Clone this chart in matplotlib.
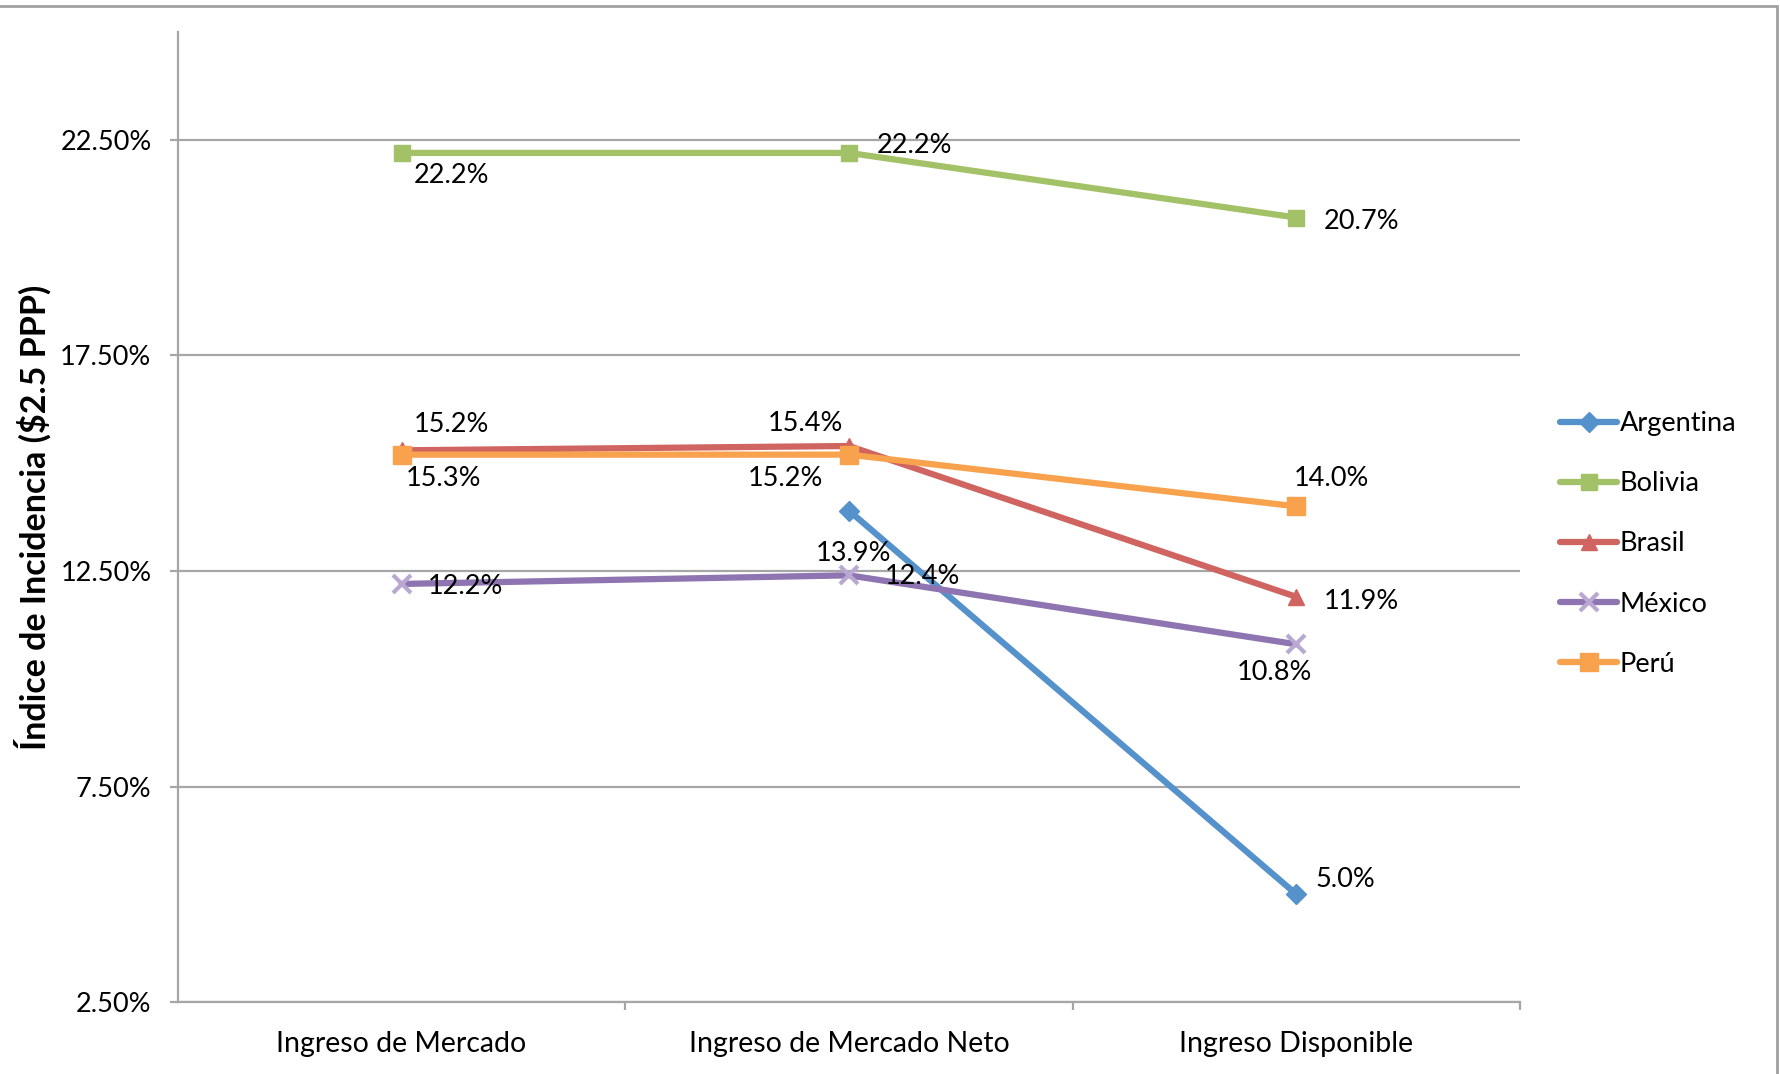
import numpy as np
import matplotlib
matplotlib.use("Agg")
import matplotlib.pyplot as plt
from matplotlib.patches import Rectangle
from matplotlib.ticker import FixedLocator, FuncFormatter

plt.rcParams["font.family"] = ["Lato", "DejaVu Sans"]

categories = ["Ingreso de Mercado", "Ingreso de Mercado Neto", "Ingreso Disponible"]
countries = ["Argentina", "Bolivia", "Brasil", "México", "Perú"]
argentina = [np.nan, 13.9, 5.0]
bolivia = [22.2, 22.2, 20.7]
brasil = [15.3, 15.4, 11.9]
mexico = [12.2, 12.4, 10.8]
peru = [15.2, 15.2, 14.0]
y_ticks = [2.5, 7.5, 12.5, 17.5, 22.5]

series = [argentina, bolivia, brasil, mexico, peru]
colors = ["#5592CB", "#A3C167", "#CF6460", "#8E74B0", "#F9A24E"]
marker_colors = ["#5592CB", "#A3C167", "#CF6460", "#B8A8D2", "#F9A24E"]
markers = ["D", "s", "^", "x", "s"]
msizes = [10, 12, 12, 13, 13]

# label offsets (points) relative to each marker
label_offsets = [
    [None, (3, -31), (35, 11)],
    [(36, -16), (47, 5), (47, -3)],
    [(30, -20), (-31, 16), (47, -3)],
    [(46, -2), (53, -1), (-16, -20)],
    [(36, 22), (-46, -17), (25, 20)],
]

fig = plt.figure(figsize=(17.81, 10.74), dpi=100)
ax = fig.add_axes([0.0999, 0.067, 0.7536, 0.903])

x = np.arange(len(categories))
for name, vals, c, mc, m, ms, offs in zip(countries, series, colors, marker_colors,
                                          markers, msizes, label_offsets):
    ax.plot(x, vals, color=c, lw=4.5, marker=m, markersize=ms,
            markerfacecolor=mc, markeredgecolor=mc,
            markeredgewidth=3 if m == "x" else 1, label=name, solid_capstyle="round")
    for xi, v, off in zip(x, vals, offs):
        if off is None or np.isnan(v):
            continue
        ax.annotate(f"{v:.1f}%", (xi, v), xytext=off, textcoords="offset points",
                    ha="center", va="center", fontsize=19.5, color="black")

ax.set_xlim(-0.5, 2.5)
ax.set_ylim(2.5, 25)
ax.yaxis.set_major_locator(FixedLocator(y_ticks))
ax.yaxis.set_major_formatter(FuncFormatter(lambda v, p: f"{v:.2f}%"))
ax.grid(axis="y", color="#A6A6A6", lw=1.6)
ax.set_axisbelow(True)

ax.set_xticks(x)
ax.set_xticklabels(categories)
ax.xaxis.set_minor_locator(FixedLocator([0.5, 1.5, 2.5]))
ax.tick_params(axis="x", which="major", length=0, pad=21, labelsize=20.5)
ax.tick_params(axis="x", which="minor", length=6, width=1.6, color="#A6A6A6")
ax.tick_params(axis="y", length=6, width=1.6, color="#A6A6A6", pad=13, labelsize=19.5)

for s in ["top", "right"]:
    ax.spines[s].set_visible(False)
for s in ["left", "bottom"]:
    ax.spines[s].set_color("#A6A6A6")
    ax.spines[s].set_linewidth(1.6)

fig.text(0.0185, 0.5185, "Índice de Incidencia ($2.5 PPP)", rotation=90,
         ha="center", va="center", fontsize=24.5, fontweight="bold")

leg = fig.legend(loc="center left", bbox_to_anchor=(0.876, 0.4935), frameon=False,
                 fontsize=19.5, handlelength=2.1, handletextpad=0.1,
                 labelspacing=1.3, borderpad=0, borderaxespad=0)

fig.patches.append(Rectangle((-0.01, -0.01), 1777 / 1781 + 0.01, 1 - 6 / 1074 + 0.01,
                             transform=fig.transFigure, fill=False,
                             edgecolor="#A0A0A0", lw=2))

fig.savefig("out.png", dpi=100)
